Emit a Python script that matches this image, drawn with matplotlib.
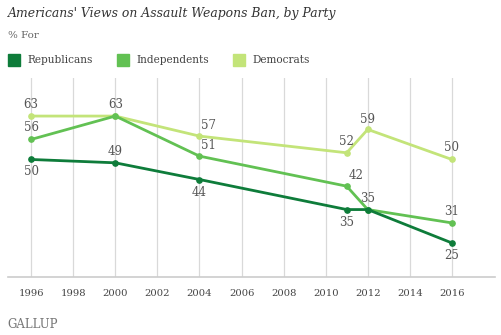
import matplotlib
matplotlib.use("Agg")
import matplotlib.pyplot as plt
from matplotlib.patches import Rectangle

years = [1996, 2000, 2004, 2011, 2012, 2016]
republicans = [50, 49, 44, 35, 35, 25]
independents = [56, 63, 51, 42, 35, 31]
democrats = [63, 63, 57, 52, 59, 50]
series_names = ["Republicans", "Independents", "Democrats"]
tick_years = list(range(1996, 2017, 2))

colors = {"Republicans": "#0e7c3a", "Independents": "#62c153", "Democrats": "#c3e479"}

# label offsets (points) for each value label; None = no label
offsets = {
    "Republicans": [(0, -8.5), (0, 8), (0, -9), (0, -9), None, (0, -9)],
    "Independents": [(0, 8.5), None, (6.5, 8), (6.5, 8), (0, 8), (0, 8)],
    "Democrats": [(0, 8), (0, 8), (6.5, 7.5), (0, 8), (0, 7.5), (0, 8.5)],
}

plt.rcParams["font.family"] = ["DejaVu Serif"]
fig = plt.figure(figsize=(5.01, 3.35), dpi=100)
ax = fig.add_axes([8 / 501, 58 / 335, 487 / 501, 199 / 335])

ax.set_xlim(1994.9, 2018.05)
ax.set_ylim(14.8, 74.4)

for y in tick_years:
    ax.axvline(y, color="#d9d9d9", lw=0.9, zorder=0)

data = {"Republicans": republicans, "Independents": independents, "Democrats": democrats}
for name in ["Democrats", "Independents", "Republicans"]:
    vals = data[name]
    ax.plot(years, vals, color=colors[name], lw=2.0, marker="o", ms=3.8,
            solid_capstyle="round", zorder=3)
    for x, v, off in zip(years, vals, offsets[name]):
        if off is None:
            continue
        ax.annotate(str(v), (x, v), xytext=off, textcoords="offset points",
                    ha="center", va="center", fontsize=8.5, color="#555555", zorder=4)

for s in ["top", "right", "left"]:
    ax.spines[s].set_visible(False)
ax.spines["bottom"].set_color("#cccccc")
ax.spines["bottom"].set_linewidth(1.2)
ax.set_yticks([])
ax.set_xticks(tick_years)
ax.set_xticklabels([str(y) for y in tick_years], fontsize=7.2, color="#444444")
ax.tick_params(axis="x", length=0, pad=9)

fig.text(8 / 501, 1 - 14 / 335, "Americans' Views on Assault Weapons Ban, by Party",
         fontsize=8.9, style="italic", color="#333333", va="center", ha="left")
fig.text(8 / 501, 1 - 35 / 335, "% For", fontsize=7.5, color="#666666", va="center", ha="left")

legend_x = [8, 117, 233]
for lx, name in zip(legend_x, series_names):
    fig.patches.append(Rectangle((lx / 501, 1 - 66 / 335), 12 / 501, 12 / 335,
                                 transform=fig.transFigure, color=colors[name]))
    fig.text((lx + 19) / 501, 1 - 60 / 335, name, fontsize=7.6, color="#444444",
             va="center", ha="left")

fig.text(7 / 501, 1 - 325 / 335, "GALLUP", fontsize=8.5, color="#777777",
         va="center", ha="left")

fig.savefig("out.png", dpi=100)
